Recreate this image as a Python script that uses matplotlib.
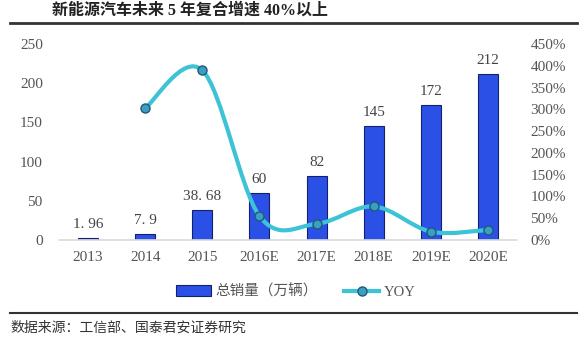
import matplotlib
matplotlib.use("Agg")
import matplotlib.pyplot as plt
from matplotlib.path import Path
from matplotlib.patches import PathPatch
from matplotlib.lines import Line2D
from matplotlib.patches import Patch

plt.rcParams['font.family'] = ['Liberation Serif', 'Noto Sans CJK SC', 'DejaVu Sans']

years = ['2013', '2014', '2015', '2016E', '2017E', '2018E', '2019E', '2020E']
sales = [1.96, 7.9, 38.68, 60, 82, 145, 172, 212]
yoy_years = ['2014', '2015', '2016E', '2017E', '2018E', '2019E', '2020E']
yoy = [303, 390, 55, 37, 77, 19, 23]

fig = plt.figure(figsize=(5.86, 3.37), dpi=100)
ax = fig.add_axes([0.1015, 0.288, 0.780, 0.581])
ax2 = ax.twinx()

x = list(range(len(years)))
bars = ax.bar(x, sales, width=0.35, color='#2b50e6', edgecolor='#14206e', linewidth=0.8, zorder=2)
for xi, v in zip(x, sales):
    ax.text(xi, v + 9, f"{v:g}".replace('.', '. '), ha='center', va='bottom',
            fontsize=11, color='#444444')

ax.set_xlim(-0.5, len(years) - 0.5)
ax.set_ylim(0, 250)
ax.set_yticks(range(0, 251, 50))
ax.set_xticks(x)
ax.set_xticklabels(years)
ax.tick_params(axis='both', length=0, labelsize=11, colors='#555555', pad=8)
ax.tick_params(axis='y', pad=12)
for s in ['top', 'right', 'left']:
    ax.spines[s].set_visible(False)
ax.spines['bottom'].set_color('#d9d9d9')
ax.spines['bottom'].set_linewidth(1.2)

# smoothed YOY line (Catmull-Rom as cubic Bezier segments)
xs = [years.index(y) for y in yoy_years]
pts = list(zip(xs, yoy))
verts = [pts[0]]
codes = [Path.MOVETO]
n = len(pts)
for i in range(n - 1):
    p0 = pts[i - 1] if i > 0 else pts[i]
    p1 = pts[i]
    p2 = pts[i + 1]
    p3 = pts[i + 2] if i + 2 < n else pts[i + 1]
    c1 = (p1[0] + (p2[0] - p0[0]) / 6, p1[1] + (p2[1] - p0[1]) / 6)
    c2 = (p2[0] - (p3[0] - p1[0]) / 6, p2[1] - (p3[1] - p1[1]) / 6)
    verts += [c1, c2, p2]
    codes += [Path.CURVE4] * 3
ax2.add_patch(PathPatch(Path(verts, codes), fill=False, edgecolor='#3ec3d6',
                        linewidth=3, zorder=3))
ax2.plot(xs, yoy, linestyle='none', marker='o', markersize=6.5,
         markerfacecolor='#3b9ec2', markeredgecolor='#1d5a78', markeredgewidth=1, zorder=4)

ax2.set_ylim(0, 450)
ax2.set_yticks(range(0, 451, 50))
ax2.set_yticklabels([f"{t}%" for t in range(0, 451, 50)])
ax2.tick_params(axis='y', length=0, labelsize=11, colors='#555555', pad=10)
for s in ['top', 'right', 'left', 'bottom']:
    ax2.spines[s].set_visible(False)

handles = [Patch(facecolor='#2b50e6', edgecolor='#14206e', linewidth=0.8),
           Line2D([], [], color='#3ec3d6', linewidth=3, marker='o', markersize=6.5,
                  markerfacecolor='#3b9ec2', markeredgecolor='#1d5a78')]
fig.legend(handles, ['总销量（万辆）', 'YOY'], loc='center', bbox_to_anchor=(0.505, 0.135),
           ncol=2, frameon=False, fontsize=10.5, handlelength=2.4, handletextpad=0.3,
           columnspacing=1.8, labelcolor='#555555')

fig.text(0.088, 0.968, '新能源汽车未来 5 年复合增速 40%以上', fontsize=11.5, fontweight='bold',
         color='#222222', ha='left', va='center')
fig.add_artist(Line2D([0.017, 0.985], [0.932, 0.932], color='#333333', linewidth=2))
fig.add_artist(Line2D([0.017, 0.985], [0.072, 0.072], color='#333333', linewidth=1.5))
fig.text(0.017, 0.028, '数据来源：工信部、国泰君安证券研究', fontsize=10,
         color='#333333', ha='left', va='center')

fig.savefig('out.png', dpi=100)
